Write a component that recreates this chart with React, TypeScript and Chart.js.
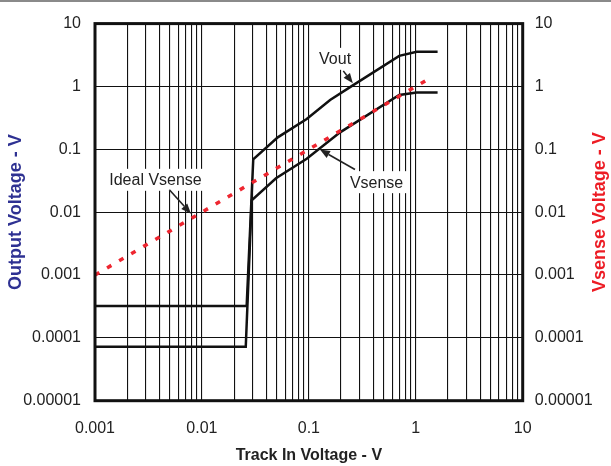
import React, { useEffect, useRef } from 'react';
import { Chart, registerables } from 'chart.js';
Chart.register(...registerables);

// ---- data ----
const xDecades = [0.001, 0.01, 0.1, 1, 10];
const xTickLabels = ['0.001', '0.01', '0.1', '1', '10'];
const yDecades = [0.00001, 0.0001, 0.001, 0.01, 0.1, 1, 10];
const yTickLabels = ['0.00001', '0.0001', '0.001', '0.01', '0.1', '1', '10'];
const minorMultipliers = [1, 2, 3, 4, 5, 6, 7, 8, 9];

const voutX = [0.001, 0.0262, 0.0302, 0.0512, 0.0955, 0.158, 0.26, 0.70, 1.02, 1.6];
const voutY = [0.00032, 0.00032, 0.069, 0.155, 0.304, 0.608, 1.05, 3.07, 3.55, 3.55];
const vsenseX = [0.001, 0.0257, 0.0292, 0.0493, 0.0955, 0.196, 0.70, 1.02, 1.6];
const vsenseY = [0.000072, 0.000072, 0.0154, 0.0346, 0.0705, 0.186, 0.73, 0.80, 0.80];
const idealX = [0.001, 1.3];
const idealY = [0.001, 1.3];

// annotations (data coordinates)
const noteTexts = ['Vout', 'Vsense', 'Ideal Vsense'];
const noteTextX = [0.176, 0.43, 0.00368];
const noteTextY = [2.75, 0.030, 0.0327];
const noteArrowFromX = [0.21, 0.27, 0.00496];
const noteArrowFromY = [1.77, 0.0476, 0.0227];
const noteArrowToX = [0.258, 0.127, 0.0079];
const noteArrowToY = [1.12, 0.099, 0.00944];

const FONT = '"Liberation Sans", Arial, sans-serif';

const pts = (xs: number[], ys: number[]) => xs.map((x, i) => ({ x, y: ys[i] }));
const sameLog = (a: number, b: number) => Math.abs(Math.log10(a) - Math.log10(b)) < 1e-6;

const xAllTicks: number[] = [];
for (let d = 0; d < xDecades.length - 1; d++) {
  for (const m of minorMultipliers) xAllTicks.push(xDecades[d] * m);
}
xAllTicks.push(xDecades[xDecades.length - 1]);

const W = 611;
const H = 466;
const AREA_LEFT = 95;
const AREA_RIGHT = 522.7;
const AREA_TOP = 22.7;
const AREA_BOTTOM = 400.7;

function drawArrow(ctx: CanvasRenderingContext2D, x1: number, y1: number, x2: number, y2: number) {
  const ang = Math.atan2(y2 - y1, x2 - x1);
  const hl = 10;
  const hw = 4;
  const bx = x2 - hl * Math.cos(ang);
  const by = y2 - hl * Math.sin(ang);
  ctx.beginPath();
  ctx.moveTo(x1, y1);
  ctx.lineTo(bx, by);
  ctx.stroke();
  ctx.beginPath();
  ctx.moveTo(x2, y2);
  ctx.lineTo(bx + hw * Math.sin(ang), by - hw * Math.cos(ang));
  ctx.lineTo(bx - hw * Math.sin(ang), by + hw * Math.cos(ang));
  ctx.closePath();
  ctx.fill();
}

const overlayPlugin = {
  id: 'overlay',
  afterDatasetsDraw(chart: any) {
    const ctx: CanvasRenderingContext2D = chart.ctx;
    const { left, right, top, bottom } = chart.chartArea;
    const xs = chart.scales.x;
    const ys = chart.scales.y;
    ctx.save();
    // annotations
    ctx.font = `16px ${FONT}`;
    ctx.textAlign = 'center';
    ctx.textBaseline = 'middle';
    noteTexts.forEach((t, i) => {
      const px = xs.getPixelForValue(noteTextX[i]);
      const py = ys.getPixelForValue(noteTextY[i]);
      const w = ctx.measureText(t).width;
      ctx.fillStyle = '#ffffff';
      ctx.fillRect(px - w / 2 - 4, py - 11, w + 8, 22);
      ctx.fillStyle = '#222222';
      ctx.fillText(t, px, py + 1);
      ctx.strokeStyle = '#222222';
      ctx.fillStyle = '#222222';
      ctx.lineWidth = 1.6;
      drawArrow(
        ctx,
        xs.getPixelForValue(noteArrowFromX[i]),
        ys.getPixelForValue(noteArrowFromY[i]),
        xs.getPixelForValue(noteArrowToX[i]),
        ys.getPixelForValue(noteArrowToY[i])
      );
    });
    // frame
    ctx.strokeStyle = '#111111';
    ctx.lineWidth = 3;
    ctx.strokeRect(left, top, right - left, bottom - top);
    // top gray bar
    ctx.fillStyle = '#8a8a8a';
    ctx.fillRect(0, 0, W, 2);
    // axis titles
    ctx.font = `bold 16px ${FONT}`;
    ctx.fillStyle = '#222222';
    ctx.textAlign = 'center';
    ctx.textBaseline = 'middle';
    ctx.fillText('Track In Voltage - V', (left + right) / 2, 456);
    ctx.font = `bold 18px ${FONT}`;
    const cy = (top + bottom) / 2;
    ctx.save();
    ctx.translate(16, cy);
    ctx.rotate(-Math.PI / 2);
    ctx.fillStyle = '#2e3192';
    ctx.fillText('Output Voltage - V', 0, 0);
    ctx.restore();
    ctx.save();
    ctx.translate(600, cy);
    ctx.rotate(-Math.PI / 2);
    ctx.fillStyle = '#ed1c24';
    ctx.fillText('Vsense Voltage - V', 0, 0);
    ctx.restore();
    ctx.restore();
  },
};

export default function App() {
  const ref = useRef<HTMLCanvasElement | null>(null);
  useEffect(() => {
    if (!ref.current) return;
    const tickFont = { family: FONT, size: 16 };
    const yTickCallback = (v: any) => {
      const i = yDecades.findIndex((d) => sameLog(d, Number(v)));
      return i >= 0 ? yTickLabels[i] : '';
    };
    const setYTicks = (scale: any) => {
      scale.ticks = yDecades.map((v) => ({ value: v }));
    };
    const chart = new Chart(ref.current, {
      type: 'line',
      data: {
        datasets: [
          {
            label: 'Ideal Vsense',
            data: pts(idealX, idealY),
            borderColor: '#ee2630',
            borderWidth: 3.5,
            borderDash: [5, 9],
            pointRadius: 0,
            fill: false,
            yAxisID: 'y',
          },
          {
            label: 'Vout',
            data: pts(voutX, voutY),
            borderColor: '#111111',
            borderWidth: 2.5,
            pointRadius: 0,
            fill: false,
            yAxisID: 'y',
          },
          {
            label: 'Vsense',
            data: pts(vsenseX, vsenseY),
            borderColor: '#111111',
            borderWidth: 2.5,
            pointRadius: 0,
            fill: false,
            yAxisID: 'y',
          },
        ],
      },
      options: {
        responsive: false,
        animation: false,
        devicePixelRatio: 1,
        layout: { padding: { top: AREA_TOP, left: 0, right: 0, bottom: 0 } },
        plugins: { legend: { display: false }, tooltip: { enabled: false }, title: { display: false } },
        scales: {
          x: {
            type: 'logarithmic',
            min: 0.001,
            max: 10,
            afterBuildTicks: (scale: any) => {
              scale.ticks = xAllTicks.map((v) => ({ value: v }));
            },
            afterFit: (scale: any) => {
              scale.height = H - AREA_BOTTOM;
            },
            grid: { color: '#111111', lineWidth: 1.1, drawTicks: false },
            border: { display: false },
            ticks: {
              autoSkip: false,
              maxRotation: 0,
              padding: 18,
              font: tickFont,
              color: '#222222',
              callback: (v: any) => {
                const i = xDecades.findIndex((d) => sameLog(d, Number(v)));
                return i >= 0 ? xTickLabels[i] : '';
              },
            },
          },
          y: {
            type: 'logarithmic',
            position: 'left',
            min: 0.00001,
            max: 10,
            afterBuildTicks: setYTicks,
            afterFit: (scale: any) => {
              scale.width = AREA_LEFT;
            },
            grid: { color: '#111111', lineWidth: 1.1, drawTicks: false },
            border: { display: false },
            ticks: { autoSkip: false, padding: 14, font: tickFont, color: '#222222', callback: yTickCallback },
          },
          y2: {
            type: 'logarithmic',
            position: 'right',
            min: 0.00001,
            max: 10,
            afterBuildTicks: setYTicks,
            afterFit: (scale: any) => {
              scale.width = W - AREA_RIGHT;
            },
            grid: { display: false, drawTicks: false },
            border: { display: false },
            ticks: { autoSkip: false, padding: 12, font: tickFont, color: '#222222', callback: yTickCallback },
          },
        },
      } as any,
      plugins: [overlayPlugin],
    });
    return () => chart.destroy();
  }, []);
  return (
    <div style={{ position: 'fixed', left: 0, top: 0, width: W, height: H, background: '#ffffff' }}>
      <canvas ref={ref} width={W} height={H} style={{ width: W, height: H, display: 'block' }} />
    </div>
  );
}
